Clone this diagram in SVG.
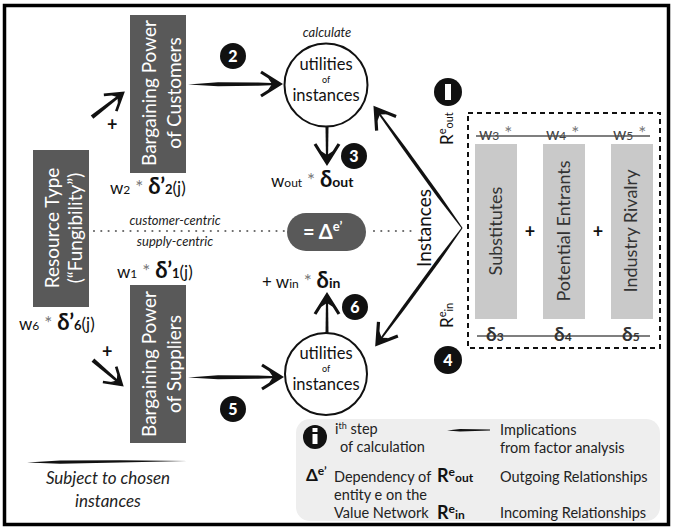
<svg xmlns="http://www.w3.org/2000/svg" xmlns:xlink="http://www.w3.org/1999/xlink" width="673" height="529" viewBox="0 0 673 529">
<style>
text{font-family:Lato,"Open Sans","Liberation Sans",sans-serif;}
.box{fill:#595959;}
.bar{fill:#c9c9c9;}
.wt{fill:#fff;font-size:19px;}
.bt{fill:#333;font-size:18px;}
.t{fill:#111;}
.it{font-style:italic;fill:#222;}
.badge{fill:#111;}
.bn{fill:#fff;font-weight:900;font-size:16px;text-anchor:middle;}
.circ{fill:#fff;stroke:#111;stroke-width:2;}
.ct{fill:#111;font-size:16.5px;text-anchor:middle;}
.co{fill:#111;font-size:9px;text-anchor:middle;}
.ast{fill:#777;}
.shaft{fill:#111;}
.dots{stroke:#666;stroke-width:2.2;stroke-linecap:round;stroke-dasharray:0 7.3;fill:none;}
.gline{stroke:#555;stroke-width:1.6;fill:none;}
.lg{fill:#222;font-size:14.5px;}
</style>
<defs>
<g id="head">
<path d="M-19,-12 L0,0 L-19,12" fill="none" stroke="#111" stroke-width="3.2" stroke-linejoin="miter"/>
<path d="M0,0 L-12,-6 L-8,0 L-12,6 Z" fill="#111"/>
</g>
</defs>
<rect x="4.5" y="5.5" width="664" height="519" fill="#fff" stroke="#000" stroke-width="3.5"/>

<g id="connectors">
<path class="dots" d="M94,231 L286,231"/>
<path class="dots" d="M374,231 L414,231"/>
<g transform="translate(188,84)">
<path class="shaft" d="M0,0.5 L30,-1.8 L70,-1.5 L90,-0.8 L90,1 L70,1.8 L30,2.2 Z"/>
<use xlink:href="#head" transform="translate(92,0)"/>
</g>
<g transform="translate(188,377)">
<path class="shaft" d="M0,0.5 L30,-1.8 L70,-1.5 L90,-0.8 L90,1 L70,1.8 L30,2.2 Z"/>
<use xlink:href="#head" transform="translate(93,0)"/>
</g>
<g transform="translate(327,127) rotate(90)">
<path class="shaft" d="M0,-1.5 L34,-1 L34,1 L0,1.5 Z"/>
<use xlink:href="#head" transform="translate(36,0)"/>
</g>
<g transform="translate(327,333) rotate(-90)">
<path class="shaft" d="M0,-1.5 L36,-1 L36,1 L0,1.5 Z"/>
<use xlink:href="#head" transform="translate(38,0)"/>
</g>
<g transform="translate(92,117) rotate(-37.7)">
<path class="shaft" d="M0,-2 L36,-1.2 L36,1.2 L0,2.2 Z"/>
<use xlink:href="#head" transform="translate(39,0) scale(0.85)"/>
</g>
<g transform="translate(93,360) rotate(40.8)">
<path class="shaft" d="M0,-2 L35,-1.2 L35,1.2 L0,2.2 Z"/>
<use xlink:href="#head" transform="translate(38,0) scale(0.85)"/>
</g>
<g transform="translate(462,228) rotate(-125.9)">
<path class="shaft" d="M0,-0.6 L40,-1.8 L100,-1.6 L146,-0.8 L146,0.8 L100,1.6 L40,1.6 L0,0.6 Z"/>
<use xlink:href="#head" transform="translate(148,0)"/>
</g>
<g transform="translate(462,228) rotate(126.2)">
<path class="shaft" d="M0,-0.6 L40,-1.8 L100,-1.6 L142,-0.8 L142,0.8 L100,1.6 L40,1.6 L0,0.6 Z"/>
<use xlink:href="#head" transform="translate(144,0)"/>
</g>
</g>

<g id="customers">
<rect class="box" x="130" y="15" width="56" height="158"/>
<g transform="translate(158,93) rotate(-90)">
<text class="wt" x="0" y="-2" text-anchor="middle">Bargaining Power</text>
<text class="wt" x="0" y="23" text-anchor="middle">of Customers</text>
</g>
<text class="t" x="107" y="131" font-size="18" font-weight="bold">+</text>
<text class="t" x="110" y="194" font-size="17">w<tspan font-size="12">2</tspan><tspan class="ast" font-size="19"> * </tspan><tspan font-weight="bold" font-size="22">δ’</tspan><tspan font-weight="bold" font-size="13">2</tspan>(j)</text>
</g>

<g id="suppliers">
<rect class="box" x="130" y="285" width="56" height="158"/>
<g transform="translate(158,364) rotate(-90)">
<text class="wt" x="0" y="-2" text-anchor="middle">Bargaining Power</text>
<text class="wt" x="0" y="23" text-anchor="middle">of Suppliers</text>
</g>
<text class="t" x="102" y="358" font-size="18" font-weight="bold">+</text>
<text class="t" x="117" y="278" font-size="17">w<tspan font-size="12">1</tspan><tspan class="ast" font-size="19"> * </tspan><tspan font-weight="bold" font-size="22">δ’</tspan><tspan font-weight="bold" font-size="13">1</tspan>(j)</text>
</g>

<g id="resource">
<rect class="box" x="33" y="150" width="56" height="157"/>
<g transform="translate(61,228) rotate(-90)">
<text class="wt" x="0" y="-2" text-anchor="middle">Resource Type</text>
<text class="wt" x="0" y="21" text-anchor="middle">(“Fungibility”)</text>
</g>
<text class="t" x="19" y="330" font-size="17">w<tspan font-size="12">6</tspan><tspan class="ast" font-size="19"> * </tspan><tspan font-weight="bold" font-size="22">δ’</tspan><tspan font-weight="bold" font-size="13">6</tspan>(j)</text>
</g>

<g id="centric">
<text class="it" x="175" y="225" font-size="13" text-anchor="middle">customer-centric</text>
<text class="it" x="175" y="246" font-size="13" text-anchor="middle">supply-centric</text>
</g>

<g id="delta">
<rect x="287" y="213" width="79" height="38" rx="19" fill="#595959"/>
<text x="303" y="239" fill="#fff" font-weight="bold" font-size="20">= Δ<tspan font-size="13" dy="-8">e’</tspan></text>
</g>

<g id="utilities-top">
<circle class="circ" cx="326" cy="85" r="41.5"/>
<text class="ct" x="326" y="70">utilities</text>
<text class="co" x="326" y="83">of</text>
<text class="ct" x="326" y="101">instances</text>
<text class="it" x="327" y="37" font-size="13" text-anchor="middle">calculate</text>
<text class="t" x="271" y="187" font-size="17">w<tspan font-size="12">out</tspan><tspan class="ast" font-size="19"> * </tspan><tspan font-weight="bold" font-size="22">δ</tspan><tspan font-weight="bold" font-size="14">out</tspan></text>
</g>

<g id="utilities-bottom">
<circle class="circ" cx="326" cy="374" r="41"/>
<text class="ct" x="326" y="359">utilities</text>
<text class="co" x="326" y="372">of</text>
<text class="ct" x="326" y="390">instances</text>
<text class="t" x="262" y="288" font-size="17">+ w<tspan font-size="12">in</tspan><tspan class="ast" font-size="19"> * </tspan><tspan font-weight="bold" font-size="22">δ</tspan><tspan font-weight="bold" font-size="14">in</tspan></text>
</g>

<g id="badges">
<circle class="badge" cx="233" cy="56" r="13"/><text class="bn" x="233" y="62">2</text>
<circle class="badge" cx="354" cy="156" r="13"/><text class="bn" x="354" y="162">3</text>
<circle class="badge" cx="355" cy="307" r="13"/><text class="bn" x="355" y="313">6</text>
<circle class="badge" cx="233" cy="409" r="13"/><text class="bn" x="233" y="415">5</text>
<circle class="badge" cx="448" cy="92" r="14"/><rect x="445" y="84" width="6" height="16" fill="#fff"/>
<circle class="badge" cx="448" cy="360" r="14"/><text class="bn" x="448" y="366">4</text>
</g>

<g id="instances-label">
<text transform="translate(431,228) rotate(-90)" x="0" y="0" text-anchor="middle" font-size="19" fill="#111">Instances</text>
<text transform="translate(453,145) rotate(-90)" x="0" y="0" font-size="17" fill="#111">R<tspan font-size="11" dy="-7">e</tspan><tspan font-size="11" dy="7">out</tspan></text>
<text transform="translate(453,328) rotate(-90)" x="0" y="0" font-size="17" fill="#111">R<tspan font-size="11" dy="-7">e</tspan><tspan font-size="11" dy="7">in</tspan></text>
</g>

<g id="forces">
<rect x="468" y="113" width="192" height="235" fill="none" stroke="#111" stroke-width="2" stroke-dasharray="5 4"/>
<rect class="bar" x="475" y="144" width="42" height="175"/>
<rect class="bar" x="543" y="144" width="42" height="175"/>
<rect class="bar" x="611" y="144" width="42" height="175"/>
<text class="bt" transform="translate(502,231) rotate(-90)" text-anchor="middle">Substitutes</text>
<text class="bt" transform="translate(570,231) rotate(-90)" text-anchor="middle">Potential Entrants</text>
<text class="bt" transform="translate(637,231) rotate(-90)" text-anchor="middle">Industry Rivalry</text>
<text class="t" x="530" y="238" font-size="18" font-weight="bold" text-anchor="middle">+</text>
<text class="t" x="598" y="238" font-size="18" font-weight="bold" text-anchor="middle">+</text>
<path class="gline" d="M476,136 L650,136"/>
<text x="479" y="140" font-size="17" fill="#444">w<tspan font-size="12">3</tspan><tspan class="ast" font-size="19" dx="5">*</tspan></text>
<text x="546" y="140" font-size="17" fill="#444">w<tspan font-size="12">4</tspan><tspan class="ast" font-size="19" dx="5">*</tspan></text>
<text x="613" y="140" font-size="17" fill="#444">w<tspan font-size="12">5</tspan><tspan class="ast" font-size="19" dx="5">*</tspan></text>
<path class="gline" d="M477,336 L650,336"/>
<text x="486" y="341" font-size="19" font-weight="bold" fill="#333">δ<tspan font-size="12">3</tspan></text>
<text x="554" y="341" font-size="19" font-weight="bold" fill="#333">δ<tspan font-size="12">4</tspan></text>
<text x="622" y="341" font-size="19" font-weight="bold" fill="#333">δ<tspan font-size="12">5</tspan></text>
</g>

<g id="subject-note">
<path class="shaft" d="M27,462.5 L60,460.6 L120,460.2 L187,461 L120,462.6 L60,463.8 Z"/>
<text class="it" x="108" y="484" font-size="17" text-anchor="middle">Subject to chosen</text>
<text class="it" x="108" y="507" font-size="17" text-anchor="middle">instances</text>
</g>

<g id="legend">
<rect x="296" y="419" width="364" height="102" rx="14" fill="#eeeeee"/>
<circle class="badge" cx="315" cy="437" r="12"/>
<rect x="312.5" y="434" width="5" height="10" fill="#fff"/><rect x="312.5" y="428" width="5" height="4" fill="#fff"/>
<text class="lg" x="335" y="434">i<tspan font-size="9" dy="-5">th</tspan><tspan dy="5"> step</tspan></text>
<text class="lg" x="340" y="452">of calculation</text>
<path class="shaft" d="M447,430.5 L460,429 L490,429.5 L490,430.6 L460,431.6 Z"/>
<text class="lg" x="500" y="435">Implications</text>
<text class="lg" x="500" y="453">from factor analysis</text>
<text x="306" y="481" font-size="17" font-weight="bold" fill="#111">Δ<tspan font-size="12" dy="-6">e’</tspan></text>
<text class="lg" x="334" y="482">Dependency of</text>
<text class="lg" x="334" y="500">entity e on the</text>
<text class="lg" x="334" y="518">Value Network</text>
<text x="437" y="482" font-size="18" font-weight="bold" fill="#111">R<tspan font-size="12" dy="-6">e</tspan><tspan font-size="12" dy="6">out</tspan></text>
<text class="lg" x="500" y="482">Outgoing Relationships</text>
<text x="437" y="519" font-size="18" font-weight="bold" fill="#111">R<tspan font-size="12" dy="-6">e</tspan><tspan font-size="12" dy="6">in</tspan></text>
<text class="lg" x="500" y="518">Incoming Relationships</text>
</g>
</svg>
